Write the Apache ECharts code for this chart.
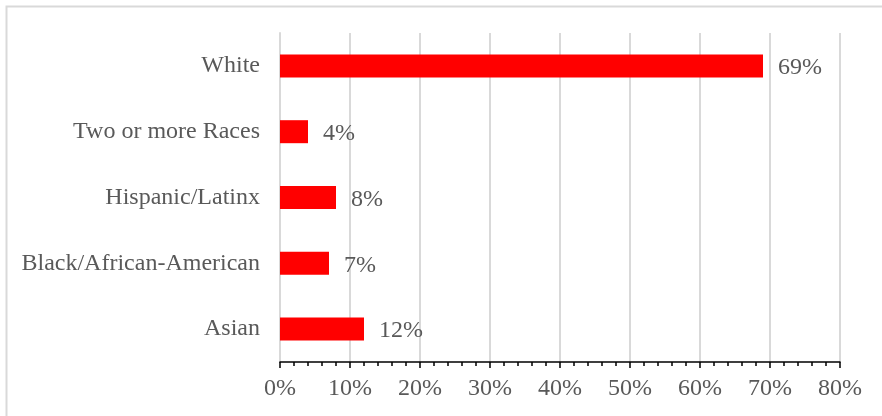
<!DOCTYPE html>
<html><head><meta charset="utf-8">
<script src="https://cdn.jsdelivr.net/npm/echarts@6/dist/echarts.min.js"></script>
<style>html,body{margin:0;padding:0;background:#fff}#c{width:882px;height:416px}</style>
</head><body><div id="c"></div>
<script>
const categories = ['Asian', 'Black/African-American', 'Hispanic/Latinx', 'Two or more Races', 'White'];
const values = [12, 7, 8, 4, 69];
const tickLabels = ['0%', '10%', '20%', '30%', '40%', '50%', '60%', '70%', '80%'];

const chart = echarts.init(document.getElementById('c'), null, {renderer: 'canvas'});
const font = '"Liberation Serif", "Times New Roman", serif';
chart.setOption({
  animation: false,
  backgroundColor: '#fff',
  graphic: [{
    type: 'rect', left: 4, top: 4, silent: true,
    shape: {width: 950, height: 480},
    style: {fill: 'none', stroke: '#d9d9d9', lineWidth: 2}
  }],
  grid: {left: 280, right: 42, top: 33, bottom: 54, containLabel: false},
  xAxis: {
    type: 'value', min: 0, max: 80, interval: 10,
    axisLine: {show: true, lineStyle: {color: '#000', width: 1.5}},
    axisTick: {show: true, length: 6, lineStyle: {color: '#000', width: 1.5}},
    minorTick: {show: true, splitNumber: 5, length: 4, lineStyle: {color: '#000', width: 1.5}},
    splitLine: {show: true, lineStyle: {color: '#d9d9d9', width: 2}},
    axisLabel: {
      margin: 15, color: '#595959', fontFamily: font, fontSize: 24,
      formatter: v => tickLabels[Math.round(v / 10)]
    }
  },
  yAxis: {
    type: 'category', data: categories,
    axisLine: {show: true, lineStyle: {color: '#d9d9d9', width: 2}},
    axisTick: {show: false},
    axisLabel: {margin: 20, color: '#595959', fontFamily: font, fontSize: 24, padding: [2, 0, 0, 0]}
  },
  series: [{
    type: 'bar', data: values, barWidth: 23,
    itemStyle: {color: '#ff0000'},
    label: {
      show: true, position: 'right', distance: 15, offset: [0, 2],
      color: '#595959', fontFamily: font, fontSize: 24,
      formatter: p => p.value + '%'
    }
  }]
});
</script></body></html>
